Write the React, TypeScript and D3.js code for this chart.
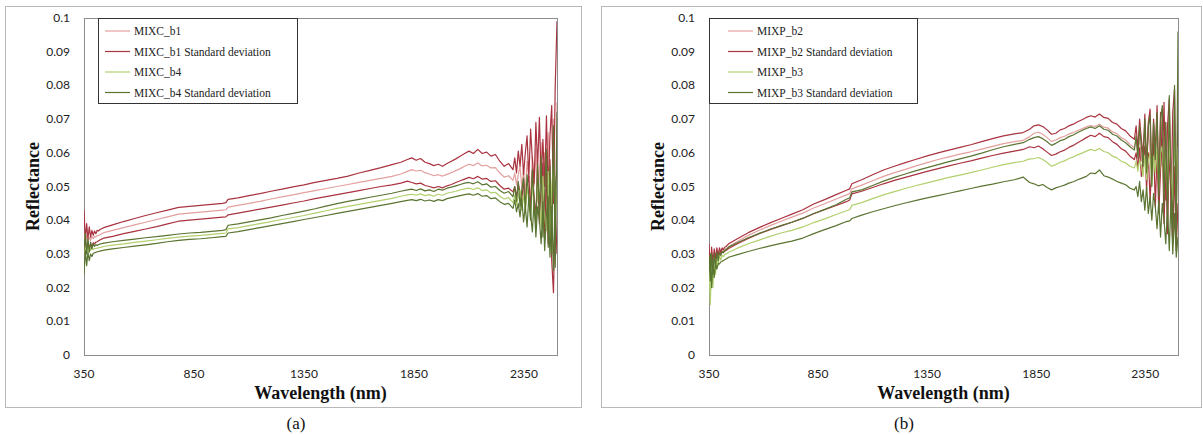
import React from "react";
import * as d3 from "d3";

// ---------------- DATA ----------------
const WAVELENGTHS = [
  350, 356, 362, 368, 374, 380, 386, 392, 398, 404, 410, 416, 422, 428, 434, 440,
  480, 530, 580, 630, 680, 730, 780, 830, 880, 930, 980, 995, 1005, 1050, 1100, 1150, 1200, 1250, 1300, 1350, 1400, 1450, 1500, 1550, 1600, 1650, 1700, 1750, 1790, 1820,
  1840, 1860, 1880, 1900, 1920, 1940, 1960, 1980, 2000, 2020, 2040, 2060, 2080, 2100, 2120, 2140, 2160, 2180, 2200, 2220, 2240, 2260, 2280, 2300,
  2308, 2316, 2324, 2332, 2340, 2348, 2356, 2364, 2372, 2380, 2388, 2396, 2404, 2412, 2420, 2428, 2436, 2444, 2452, 2460, 2468, 2476, 2484, 2492, 2500,
];

const X_TICKS = [350, 850, 1350, 1850, 2350];
const Y_TICKS = [0, 0.01, 0.02, 0.03, 0.04, 0.05, 0.06, 0.07, 0.08, 0.09, 0.1];
const Y_TICK_LABELS = ["0", "0.01", "0.02", "0.03", "0.04", "0.05", "0.06", "0.07", "0.08", "0.09", "0.1"];

// Panel (a)
const MIXC_B1 = [
  0.036, 0.033, 0.0355, 0.0335, 0.035, 0.034, 0.0352, 0.0345, 0.0352, 0.035, 0.0354, 0.0355, 0.0357, 0.0359, 0.0361, 0.0363,
  0.037, 0.0378, 0.0386, 0.0394, 0.0402, 0.041, 0.0418, 0.0421, 0.0424, 0.0427, 0.043, 0.0431, 0.0439, 0.0444, 0.045, 0.0456, 0.0463, 0.0469, 0.0475, 0.0482, 0.0488, 0.0494, 0.05, 0.0506, 0.0512, 0.0518, 0.0524, 0.053, 0.0537, 0.0545,
  0.055, 0.0546, 0.0548, 0.0541, 0.0537, 0.0532, 0.0535, 0.0531, 0.0536, 0.0541, 0.0547, 0.0553, 0.056, 0.0566, 0.0562, 0.057, 0.0561, 0.0563, 0.0555, 0.0556, 0.054, 0.0528, 0.0532, 0.0518,
  0.054, 0.0505, 0.0535, 0.056, 0.0495, 0.055, 0.0478, 0.0575, 0.052, 0.0465, 0.059, 0.05, 0.061, 0.0455, 0.0545, 0.063, 0.043, 0.06, 0.041, 0.066, 0.048, 0.038, 0.07, 0.035, 0.075,
];
const MIXC_B1_SD_UP = [
  0.043, 0.034, 0.039, 0.0345, 0.038, 0.035, 0.037, 0.0355, 0.0368, 0.036, 0.037, 0.0368, 0.0372, 0.0374, 0.0376, 0.0378,
  0.0386, 0.0396, 0.0405, 0.0414, 0.0422, 0.043, 0.0438, 0.0441, 0.0444, 0.0447, 0.045, 0.0452, 0.0462, 0.0466, 0.0473, 0.0479, 0.0486, 0.0492, 0.0499, 0.0505, 0.0512, 0.0518, 0.0524, 0.0531, 0.054, 0.0548, 0.0556, 0.0565, 0.0572, 0.058,
  0.0585, 0.0578, 0.0583, 0.0572, 0.0568, 0.0562, 0.0566, 0.056, 0.0568, 0.0575, 0.0582, 0.059, 0.0598, 0.0605, 0.0598, 0.061, 0.0598, 0.0602, 0.059, 0.0595, 0.0575, 0.056, 0.0568, 0.055,
  0.0585, 0.054, 0.0605, 0.056, 0.0625, 0.0535, 0.06, 0.065, 0.0525, 0.067, 0.058, 0.051, 0.069, 0.056, 0.0705, 0.052, 0.064, 0.05, 0.071, 0.048, 0.065, 0.074, 0.045, 0.08, 0.099,
];
const MIXC_B1_SD_LOW = [
  0.03, 0.0345, 0.031, 0.0335, 0.0315, 0.033, 0.0322, 0.0333, 0.033, 0.0335, 0.0336, 0.0339, 0.0341, 0.0343, 0.0345, 0.0347,
  0.0352, 0.036, 0.0367, 0.0374, 0.0381, 0.0389, 0.0397, 0.04, 0.0403, 0.0406, 0.0409, 0.041, 0.0416, 0.0421, 0.0427, 0.0433, 0.0439, 0.0445, 0.0451, 0.0457, 0.0464, 0.047, 0.0476, 0.0482, 0.0488, 0.0494, 0.05, 0.0505, 0.051, 0.0516,
  0.0512, 0.0508, 0.051, 0.0503, 0.05, 0.0496, 0.05, 0.0496, 0.0502, 0.0506, 0.0512, 0.0517, 0.0522, 0.0527, 0.0523, 0.053, 0.0522, 0.0524, 0.0515, 0.0517, 0.0503, 0.0492, 0.0495, 0.0484,
  0.05, 0.0468, 0.051, 0.048, 0.0455, 0.052, 0.044, 0.0505, 0.053, 0.0425, 0.0545, 0.047, 0.041, 0.056, 0.039, 0.05, 0.057, 0.036, 0.054, 0.033, 0.058, 0.028, 0.0185, 0.045, 0.03,
];
const MIXC_B4 = [
  0.0325, 0.03, 0.033, 0.0305, 0.0322, 0.031, 0.0318, 0.0313, 0.0316, 0.0316, 0.0317, 0.0318, 0.0319, 0.032, 0.0321, 0.0322,
  0.0326, 0.033, 0.0334, 0.0338, 0.0342, 0.0346, 0.035, 0.0353, 0.0355, 0.0358, 0.0361, 0.0362, 0.0374, 0.0378, 0.0384, 0.039, 0.0396, 0.0402, 0.0408, 0.0414, 0.0421, 0.0428, 0.0435, 0.0441, 0.0447, 0.0453, 0.0459, 0.0465, 0.0471, 0.0475,
  0.0477, 0.0474, 0.0478, 0.0473, 0.0476, 0.0471, 0.0477, 0.0474, 0.048, 0.0483, 0.0486, 0.049, 0.0493, 0.0495, 0.0491, 0.0496, 0.0488, 0.049, 0.0481, 0.0483, 0.0471, 0.0463, 0.0467, 0.0452,
  0.0475, 0.0445, 0.047, 0.049, 0.043, 0.048, 0.042, 0.05, 0.0455, 0.0405, 0.051, 0.044, 0.0395, 0.052, 0.046, 0.038, 0.053, 0.041, 0.037, 0.0545, 0.036, 0.05, 0.056, 0.04, 0.05,
];
const MIXC_B4_SD_UP = [
  0.031, 0.036, 0.03, 0.0345, 0.0305, 0.0335, 0.0315, 0.033, 0.0322, 0.0328, 0.0325, 0.0328, 0.0329, 0.033, 0.0331, 0.0332,
  0.0336, 0.034, 0.0344, 0.0348, 0.0351, 0.0355, 0.0359, 0.0362, 0.0364, 0.0367, 0.037, 0.0372, 0.0385, 0.0389, 0.0395, 0.0401, 0.0407, 0.0414, 0.042, 0.0427, 0.0434, 0.0442, 0.0449, 0.0456, 0.0462, 0.0468, 0.0474, 0.048, 0.0486, 0.049,
  0.0492, 0.0488, 0.0493, 0.0487, 0.049, 0.0485, 0.0492, 0.0489, 0.0495, 0.0498, 0.0502, 0.0506, 0.051, 0.0512, 0.0508, 0.0514, 0.0505, 0.0508, 0.0498, 0.05, 0.0488, 0.048, 0.0485, 0.047,
  0.05, 0.0455, 0.0515, 0.044, 0.049, 0.0525, 0.043, 0.0535, 0.047, 0.04, 0.055, 0.045, 0.038, 0.0565, 0.042, 0.059, 0.035, 0.048, 0.061, 0.032, 0.056, 0.03, 0.068, 0.026, 0.072,
];
const MIXC_B4_SD_LOW = [
  0.024, 0.031, 0.0265, 0.0305, 0.028, 0.03, 0.0292, 0.0302, 0.0303, 0.0305, 0.0306, 0.0307, 0.0308, 0.0309, 0.031, 0.0311,
  0.0315, 0.0319, 0.0323, 0.0327, 0.0331, 0.0336, 0.034, 0.0343, 0.0345, 0.0348, 0.0351, 0.0352, 0.0362, 0.0366, 0.0372, 0.0378, 0.0384, 0.039, 0.0396, 0.0402, 0.0408, 0.0414, 0.042, 0.0426, 0.0432, 0.0438, 0.0444, 0.045, 0.0455, 0.0459,
  0.0461, 0.0458, 0.0462, 0.0457, 0.046, 0.0456, 0.0461, 0.0458, 0.0464, 0.0467, 0.047, 0.0473, 0.0476, 0.0478, 0.0474, 0.0479, 0.0471, 0.0473, 0.0464, 0.0466, 0.0455, 0.0447, 0.045, 0.0435,
  0.046, 0.0425, 0.045, 0.041, 0.0465, 0.0395, 0.044, 0.038, 0.047, 0.042, 0.0365, 0.046, 0.035, 0.044, 0.04, 0.033, 0.0455, 0.031, 0.042, 0.047, 0.029, 0.044, 0.025, 0.05, 0.055,
];

// Panel (b)
const MIXP_B2 = [
  0.03, 0.0275, 0.0305, 0.028, 0.0303, 0.029, 0.0305, 0.0298, 0.0307, 0.0303, 0.0309, 0.0308, 0.0312, 0.0315, 0.0318, 0.0322,
  0.0337, 0.0355, 0.037, 0.0384, 0.0397, 0.0409, 0.0421, 0.0436, 0.0449, 0.0462, 0.0475, 0.0479, 0.0493, 0.0504, 0.0517, 0.053, 0.0541, 0.0551, 0.0561, 0.0571, 0.058, 0.0588, 0.0596, 0.0603, 0.0611, 0.0619, 0.0627, 0.0633, 0.0637, 0.0648,
  0.0658, 0.0661, 0.0655, 0.0645, 0.0634, 0.0638, 0.0645, 0.0649, 0.0656, 0.066, 0.0666, 0.0671, 0.0677, 0.0681, 0.0678, 0.0685, 0.0676, 0.0673, 0.0662, 0.0657, 0.0645, 0.0638, 0.0625, 0.0615,
  0.064, 0.0595, 0.065, 0.0575, 0.062, 0.0665, 0.0555, 0.068, 0.06, 0.053, 0.069, 0.056, 0.07, 0.05, 0.064, 0.071, 0.048, 0.069, 0.045, 0.072, 0.056, 0.044, 0.07, 0.05, 0.06,
];
const MIXP_B2_SD_UP = [
  0.033, 0.025, 0.032, 0.027, 0.0315, 0.0285, 0.0318, 0.0295, 0.0318, 0.0305, 0.0318, 0.0312, 0.032, 0.0322, 0.0326, 0.033,
  0.0345, 0.0363, 0.0378, 0.0392, 0.0405, 0.0418, 0.0431, 0.0448, 0.0461, 0.0475, 0.0489, 0.0493, 0.0508, 0.052, 0.0535, 0.0549, 0.056, 0.0571, 0.0581, 0.0591, 0.06, 0.0608, 0.0616, 0.0624, 0.0633, 0.0642, 0.065, 0.0656, 0.066, 0.067,
  0.068, 0.0683, 0.0678, 0.0668, 0.0655, 0.0658, 0.0668, 0.0672, 0.068, 0.0685, 0.0692, 0.0698, 0.0705, 0.071, 0.0706, 0.0715, 0.0705, 0.0702, 0.069, 0.0685, 0.0672, 0.0665, 0.065, 0.064,
  0.068, 0.061, 0.07, 0.064, 0.059, 0.0715, 0.056, 0.069, 0.073, 0.053, 0.07, 0.06, 0.074, 0.049, 0.072, 0.056, 0.075, 0.046, 0.068, 0.076, 0.043, 0.072, 0.079, 0.04, 0.073,
];
const MIXP_B2_SD_LOW = [
  0.027, 0.03, 0.028, 0.0295, 0.0288, 0.0298, 0.0294, 0.0302, 0.03, 0.0304, 0.0303, 0.0306, 0.0308, 0.031, 0.0313, 0.0316,
  0.033, 0.0346, 0.036, 0.0372, 0.0383, 0.0394, 0.0405, 0.0419, 0.0431, 0.0443, 0.0455, 0.046, 0.0478, 0.0486, 0.0497, 0.0508, 0.0518, 0.0527, 0.0536, 0.0545, 0.0553, 0.0561, 0.0569, 0.0576, 0.0584, 0.0592, 0.0599, 0.0605, 0.061, 0.0618,
  0.0615, 0.062, 0.0612, 0.0602, 0.0592, 0.0596, 0.0603, 0.0608, 0.0616, 0.0622, 0.063, 0.0637, 0.0645, 0.0652, 0.0648, 0.0658, 0.0648, 0.0645, 0.0633, 0.0625, 0.0612, 0.0605, 0.059, 0.058,
  0.06, 0.0555, 0.0615, 0.053, 0.058, 0.062, 0.049, 0.06, 0.046, 0.056, 0.063, 0.044, 0.06, 0.042, 0.055, 0.064, 0.039, 0.058, 0.036, 0.061, 0.047, 0.033, 0.056, 0.031, 0.045,
];
const MIXP_B3 = [
  0.027, 0.015, 0.028, 0.02, 0.029, 0.024, 0.0295, 0.0265, 0.0295, 0.0282, 0.0295, 0.0292, 0.0298, 0.03, 0.0302, 0.0305,
  0.0317, 0.033, 0.0341, 0.0352, 0.0362, 0.037, 0.038, 0.0393, 0.0404, 0.0416, 0.0428, 0.0431, 0.0444, 0.0452, 0.0464, 0.0475, 0.0485, 0.0494, 0.0503, 0.0511, 0.0519, 0.0527, 0.0534, 0.0541, 0.0549, 0.0557, 0.0565, 0.0571, 0.0575, 0.0582,
  0.0583, 0.0586, 0.058, 0.0571, 0.056, 0.0565, 0.0572, 0.0576, 0.0583, 0.0588, 0.0594, 0.0599, 0.0605, 0.061, 0.0606, 0.0613, 0.0604, 0.06, 0.059, 0.0585, 0.0575, 0.057, 0.056, 0.0555,
  0.0575, 0.0545, 0.058, 0.056, 0.053, 0.059, 0.052, 0.0575, 0.06, 0.0505, 0.059, 0.054, 0.0615, 0.0495, 0.06, 0.062, 0.048, 0.061, 0.047, 0.064, 0.053, 0.046, 0.065, 0.05, 0.062,
];
const MIXP_B3_SD_UP = [
  0.029, 0.022, 0.03, 0.024, 0.03, 0.026, 0.0305, 0.028, 0.0305, 0.0295, 0.0308, 0.0303, 0.031, 0.0313, 0.0316, 0.032,
  0.0333, 0.0348, 0.0361, 0.0373, 0.0384, 0.0394, 0.0406, 0.042, 0.0432, 0.0445, 0.0462, 0.0466, 0.0484, 0.049, 0.0503, 0.0516, 0.0527, 0.0537, 0.0547, 0.0556, 0.0565, 0.0574, 0.0582, 0.059, 0.0599, 0.0609, 0.0618, 0.0625, 0.063, 0.064,
  0.0645, 0.0648, 0.0642, 0.0633, 0.0622, 0.0628, 0.0636, 0.064, 0.0648, 0.0653, 0.066, 0.0666, 0.0672, 0.0677, 0.0672, 0.068, 0.067, 0.0667, 0.0655, 0.065, 0.0638, 0.063, 0.0618, 0.0608,
  0.065, 0.0585, 0.068, 0.062, 0.056, 0.07, 0.054, 0.068, 0.071, 0.05, 0.069, 0.058, 0.072, 0.047, 0.07, 0.074, 0.044, 0.069, 0.042, 0.077, 0.05, 0.038, 0.08, 0.033, 0.096,
];
const MIXP_B3_SD_LOW = [
  0.025, 0.03, 0.02, 0.028, 0.023, 0.027, 0.0255, 0.0272, 0.027, 0.0276, 0.0278, 0.028, 0.0283, 0.0285, 0.0287, 0.029,
  0.0298, 0.0307, 0.0316, 0.0324, 0.0331, 0.0338, 0.0347, 0.036, 0.0372, 0.0383, 0.0396, 0.0398, 0.0405, 0.0415, 0.0425, 0.0434, 0.0443, 0.0451, 0.0459, 0.0466, 0.0473, 0.048, 0.0487, 0.0494, 0.0501, 0.0507, 0.0514, 0.052, 0.0528, 0.0512,
  0.0508, 0.0502, 0.0506, 0.0497, 0.049, 0.0496, 0.05, 0.0504, 0.051, 0.0514, 0.052, 0.0525, 0.053, 0.054, 0.0538, 0.0549, 0.0532, 0.0528, 0.0522, 0.0515, 0.051, 0.0505, 0.0495, 0.049,
  0.05, 0.047, 0.0515, 0.0455, 0.049, 0.043, 0.05, 0.042, 0.047, 0.04, 0.048, 0.044, 0.0375, 0.046, 0.035, 0.045, 0.04, 0.033, 0.044, 0.031, 0.046, 0.03, 0.042, 0.029, 0.035,
];

// ---------------- STYLE ----------------
const PINK = "#e3a09f";
const DARK_RED = "#a9333f";
const LIGHT_GREEN = "#b2d06d";
const DARK_GREEN = "#5a7431";

const SERIF = "'Liberation Serif', 'Times New Roman', serif";
const SANS = "Lato, 'Open Sans', sans-serif";

type Series = { values: number[]; color: string };

type PanelDef = {
  frame: [number, number, number, number];
  plot: { l: number; r: number; t: number; b: number };
  legend: { x: number; y: number; w: number; h: number; lx0: number; lx1: number; tx: number };
  legendItems: { label: string; color: string }[];
  series: Series[];
  caption: string;
};

const PANELS: PanelDef[] = [
  {
    frame: [5, 6, 581, 407],
    plot: { l: 84, r: 557, t: 18, b: 355 },
    legend: { x: 98, y: 18, w: 199, h: 85, lx0: 105, lx1: 130, tx: 134 },
    legendItems: [
      { label: "MIXC_b1", color: PINK },
      { label: "MIXC_b1 Standard deviation", color: DARK_RED },
      { label: "MIXC_b4", color: LIGHT_GREEN },
      { label: "MIXC_b4 Standard deviation", color: DARK_GREEN },
    ],
    series: [
      { values: MIXC_B1, color: PINK },
      { values: MIXC_B1_SD_UP, color: DARK_RED },
      { values: MIXC_B1_SD_LOW, color: DARK_RED },
      { values: MIXC_B4, color: LIGHT_GREEN },
      { values: MIXC_B4_SD_UP, color: DARK_GREEN },
      { values: MIXC_B4_SD_LOW, color: DARK_GREEN },
    ],
    caption: "(a)",
  },
  {
    frame: [601, 6, 1201, 407],
    plot: { l: 709, r: 1178, t: 18, b: 355 },
    legend: { x: 709, y: 18, w: 208, h: 85, lx0: 728, lx1: 753, tx: 757 },
    legendItems: [
      { label: "MIXP_b2", color: PINK },
      { label: "MIXP_b2 Standard deviation", color: DARK_RED },
      { label: "MIXP_b3", color: LIGHT_GREEN },
      { label: "MIXP_b3 Standard deviation", color: DARK_GREEN },
    ],
    series: [
      { values: MIXP_B2, color: PINK },
      { values: MIXP_B2_SD_UP, color: DARK_RED },
      { values: MIXP_B2_SD_LOW, color: DARK_RED },
      { values: MIXP_B3, color: LIGHT_GREEN },
      { values: MIXP_B3_SD_UP, color: DARK_GREEN },
      { values: MIXP_B3_SD_LOW, color: DARK_GREEN },
    ],
    caption: "(b)",
  },
];

function Panel({ p, idx }: { p: PanelDef; idx: number }) {
  const x = d3.scaleLinear().domain([350, 2500]).range([p.plot.l, p.plot.r]);
  const y = d3.scaleLinear().domain([0, 0.1]).range([p.plot.b, p.plot.t]);
  const line = d3
    .line<[number, number]>()
    .x((d) => x(d[0]))
    .y((d) => y(d[1]));
  const clipId = `clip-${idx}`;
  const [fx0, fy0, fx1, fy1] = p.frame;
  const cx = (p.plot.l + p.plot.r) / 2;
  const cy = (p.plot.t + p.plot.b) / 2;
  const rowY = [31, 51.5, 72, 92.5];
  return (
    <g>
      <rect x={fx0 + 0.5} y={fy0 + 0.5} width={fx1 - fx0} height={fy1 - fy0} fill="#fff" stroke="#b8b8b8" strokeWidth={1} />
      <defs>
        <clipPath id={clipId}>
          <rect x={p.plot.l} y={p.plot.t - 2} width={p.plot.r - p.plot.l} height={p.plot.b - p.plot.t + 4} />
        </clipPath>
      </defs>
      <rect
        x={p.plot.l + 0.5}
        y={p.plot.t + 0.5}
        width={p.plot.r - p.plot.l}
        height={p.plot.b - p.plot.t}
        fill="none"
        stroke="#8c8c8c"
        strokeWidth={1}
      />
      <g clipPath={`url(#${clipId})`}>
        {p.series.map((s, i) => {
          const pts: [number, number][] = WAVELENGTHS.map((w, k) => [w, s.values[k]] as [number, number]).filter(
            (d) => d[1] !== undefined
          );
          return <path key={i} d={line(pts) || ""} fill="none" stroke={s.color} strokeWidth={1.2} strokeLinejoin="round" />;
        })}
      </g>
      {Y_TICKS.map((t, i) => (
        <text key={i} x={p.plot.l - 14} y={y(t) + 4} textAnchor="end" fontFamily={SANS} fontSize={12} fill="#222">
          {Y_TICK_LABELS[i]}
        </text>
      ))}
      {X_TICKS.map((t) => (
        <text key={t} x={x(t)} y={378} textAnchor="middle" fontFamily={SANS} fontSize={12} fill="#222">
          {t}
        </text>
      ))}
      <text x={cx} y={399} textAnchor="middle" fontFamily={SERIF} fontWeight="bold" fontSize={18} fill="#111">
        Wavelength (nm)
      </text>
      <text
        transform={`translate(${p.plot.l - 45},${cy}) rotate(-90)`}
        textAnchor="middle"
        fontFamily={SERIF}
        fontWeight="bold"
        fontSize={18}
        fill="#111"
      >
        Reflectance
      </text>
      <rect x={p.legend.x + 0.5} y={p.legend.y + 0.5} width={p.legend.w} height={p.legend.h} fill="#fff" stroke="#333" strokeWidth={1} />
      {p.legendItems.map((it, i) => (
        <g key={i}>
          <line x1={p.legend.lx0} x2={p.legend.lx1} y1={rowY[i]} y2={rowY[i]} stroke={it.color} strokeWidth={1.2} />
          <text x={p.legend.tx} y={rowY[i] + 4} fontFamily={SERIF} fontSize={11.5} fill="#222">
            {it.label}
          </text>
        </g>
      ))}
      <text x={(fx0 + fx1) / 2 + 3} y={429} textAnchor="middle" fontFamily={SERIF} fontSize={17} fill="#111">
        {p.caption}
      </text>
    </g>
  );
}

export default function App() {
  return (
    <svg
      width={1203}
      height={435}
      viewBox="0 0 1203 435"
      style={{ position: "absolute", left: 0, top: 0, background: "#fff" }}
    >
      <rect x={0} y={0} width={1203} height={435} fill="#fff" />
      {PANELS.map((p, i) => (
        <Panel key={i} p={p} idx={i} />
      ))}
    </svg>
  );
}
